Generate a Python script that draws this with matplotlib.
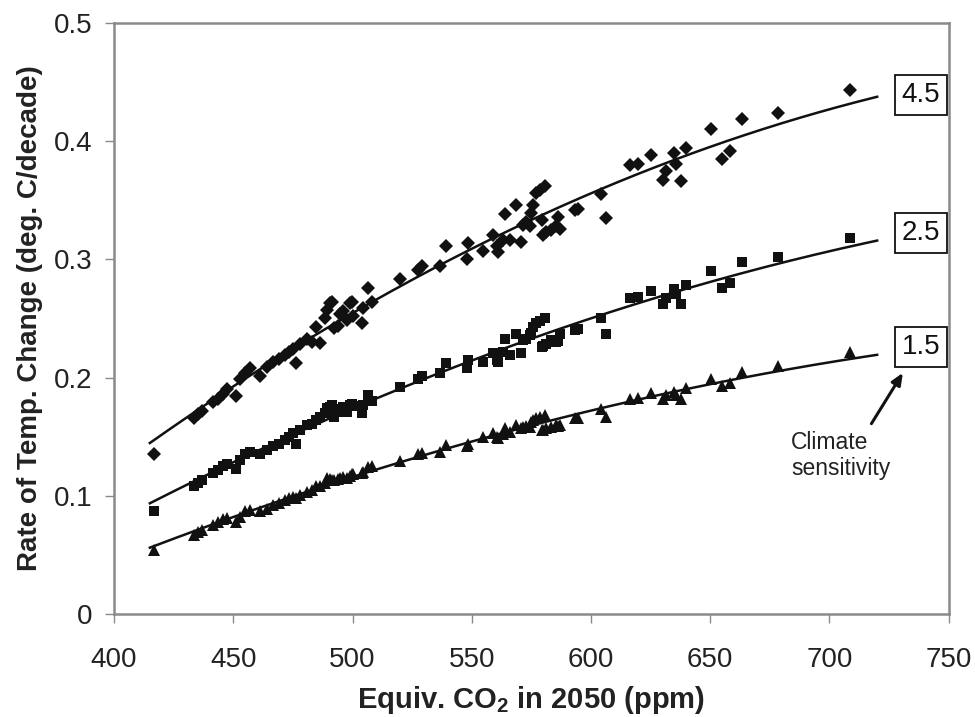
import numpy as np
import matplotlib
matplotlib.use("Agg")
import matplotlib.pyplot as plt

plt.rcParams['font.family'] = ['Liberation Sans', 'DejaVu Sans']
plt.rcParams['mathtext.fontset'] = 'custom'
plt.rcParams['mathtext.rm'] = 'Liberation Sans'
plt.rcParams['mathtext.bf'] = 'Liberation Sans:bold'

# Equivalent CO2 in 2050 (ppm), shared by the three climate sensitivities
co2 = [416.8, 433.5, 435.3, 437.0, 441.6, 443.7, 445.8, 447.5, 451.2, 452.8,
       454.9, 457.0, 461.2, 464.0, 466.5, 469.0, 471.5, 473.5, 475.1, 476.3,
       478.0, 480.8, 482.9, 484.5, 486.5, 488.4, 489.5, 490.5, 491.5, 492.3,
       494.0, 494.7, 496.1, 497.5, 498.9, 499.6, 500.3, 503.8, 504.5, 506.6,
       508.0, 519.9, 527.5, 529.0, 536.6, 539.4, 547.8, 548.5, 554.8, 559.0,
       560.4, 561.1, 563.2, 563.9, 566.0, 568.7, 570.8, 571.5, 572.9, 574.4,
       575.0, 575.7, 577.1, 578.5, 580.6, 579.3, 579.8, 581.3, 583.4, 585.5,
       586.9, 586.2, 593.2, 594.6, 604.2, 606.2, 616.5, 619.7, 625.3, 630.0,
       631.6, 634.7, 635.5, 637.6, 639.7, 650.5, 654.9, 658.2, 663.3, 678.4,
       708.5]

rate_45 = [0.135, 0.166, 0.169, 0.172, 0.179, 0.182, 0.186, 0.190, 0.184, 0.199,
           0.204, 0.208, 0.201, 0.209, 0.213, 0.216, 0.219, 0.222, 0.224, 0.212,
           0.228, 0.233, 0.230, 0.243, 0.229, 0.250, 0.257, 0.263, 0.264, 0.242,
           0.244, 0.254, 0.256, 0.249, 0.263, 0.264, 0.252, 0.246, 0.259, 0.276,
           0.264, 0.283, 0.291, 0.294, 0.294, 0.311, 0.300, 0.314, 0.307, 0.321,
           0.311, 0.306, 0.316, 0.338, 0.316, 0.346, 0.315, 0.329, 0.332, 0.328,
           0.339, 0.346, 0.356, 0.359, 0.362, 0.333, 0.321, 0.323, 0.325, 0.328,
           0.326, 0.336, 0.342, 0.343, 0.355, 0.335, 0.380, 0.381, 0.388, 0.367,
           0.375, 0.390, 0.381, 0.366, 0.394, 0.410, 0.385, 0.392, 0.419, 0.424,
           0.443]

rate_25 = [0.087, 0.108, 0.111, 0.113, 0.119, 0.122, 0.125, 0.127, 0.123, 0.130,
           0.135, 0.137, 0.135, 0.139, 0.142, 0.144, 0.147, 0.150, 0.153, 0.144,
           0.156, 0.160, 0.161, 0.164, 0.167, 0.170, 0.174, 0.175, 0.177, 0.167,
           0.171, 0.173, 0.175, 0.171, 0.177, 0.178, 0.176, 0.170, 0.177, 0.185,
           0.180, 0.192, 0.199, 0.201, 0.204, 0.212, 0.208, 0.215, 0.213, 0.221,
           0.215, 0.213, 0.222, 0.233, 0.219, 0.237, 0.221, 0.232, 0.233, 0.236,
           0.238, 0.243, 0.246, 0.248, 0.250, 0.226, 0.227, 0.228, 0.232, 0.230,
           0.237, 0.231, 0.240, 0.241, 0.250, 0.237, 0.267, 0.268, 0.273, 0.262,
           0.267, 0.275, 0.271, 0.262, 0.278, 0.290, 0.276, 0.280, 0.298, 0.302,
           0.318]

rate_15 = [0.054, 0.067, 0.069, 0.071, 0.075, 0.078, 0.080, 0.081, 0.078, 0.082,
           0.087, 0.088, 0.087, 0.089, 0.092, 0.094, 0.096, 0.098, 0.099, 0.098,
           0.101, 0.103, 0.105, 0.108, 0.108, 0.111, 0.115, 0.114, 0.113, 0.113,
           0.114, 0.115, 0.116, 0.115, 0.117, 0.118, 0.118, 0.119, 0.120, 0.124,
           0.125, 0.129, 0.135, 0.136, 0.137, 0.143, 0.142, 0.144, 0.150, 0.153,
           0.150, 0.149, 0.152, 0.157, 0.154, 0.160, 0.157, 0.158, 0.159, 0.158,
           0.162, 0.164, 0.166, 0.167, 0.168, 0.156, 0.156, 0.157, 0.158, 0.160,
           0.160, 0.159, 0.166, 0.166, 0.173, 0.167, 0.182, 0.183, 0.187, 0.182,
           0.185, 0.188, 0.185, 0.182, 0.191, 0.199, 0.193, 0.195, 0.205, 0.210,
           0.222]

sensitivities = ["4.5", "2.5", "1.5"]
markers = ["D", "s", "^"]
marker_sizes = [6.8, 7.2, 8.2]
label_y = [0.439, 0.322, 0.226]
trend_range = (415.0, 720.0)

fig = plt.figure(figsize=(9.75, 7.17), dpi=100)
ax = fig.add_axes([0.117, 0.1437, 0.856, 0.8243])

gray = '#8a8a8a'
xs = np.array(co2)
xfit = np.linspace(trend_range[0], trend_range[1], 200)
for series, mk, ms in zip([rate_45, rate_25, rate_15], markers, marker_sizes):
    ys = np.array(series)
    ax.plot(xs, ys, linestyle='none', marker=mk, markersize=ms,
            color='#111111', markeredgewidth=0, zorder=3)
    coef = np.polyfit(xs, ys, 2)
    ax.plot(xfit, np.polyval(coef, xfit), color='#111111', lw=1.8, zorder=2)

for lab, yy in zip(sensitivities, label_y):
    ax.text(738.4, yy, lab, ha='center', va='center', fontsize=20,
            color='#111111',
            bbox=dict(boxstyle='square,pad=0.25', fc='white', ec='#111111', lw=1.3))

ax.text(684, 0.134, "Climate\nsensitivity", ha='left', va='center', fontsize=16.5,
        color='#222222', linespacing=1.2)
ax.annotate("", xy=(730.8, 0.204), xytext=(717.6, 0.161),
            arrowprops=dict(arrowstyle='-|>,head_length=0.7,head_width=0.3',
                            color='#111111', lw=2.2, shrinkA=0, shrinkB=0))

ax.set_xlim(400, 750)
ax.set_ylim(0, 0.5)
ax.set_xticks([400, 450, 500, 550, 600, 650, 700, 750])
ax.set_yticks([0, 0.1, 0.2, 0.3, 0.4, 0.5])
ax.set_yticklabels(['0', '0.1', '0.2', '0.3', '0.4', '0.5'])
ax.tick_params(axis='both', direction='out', length=6.5, width=1.0, color=gray,
               labelsize=20, labelcolor='#222222')
ax.tick_params(axis='x', pad=17)
ax.tick_params(axis='y', pad=9)
for sp in ax.spines.values():
    sp.set_color(gray)
    sp.set_linewidth(1.8)

ax.set_xlabel(r"Equiv. CO$_\mathbf{2}$ in 2050 (ppm)", fontsize=21, fontweight='bold',
              color='#222222', labelpad=8)
ax.set_ylabel("Rate of Temp. Change (deg. C/decade)", fontsize=20, fontweight='bold',
              color='#222222', labelpad=8)

fig.savefig("out.png", dpi=100)
